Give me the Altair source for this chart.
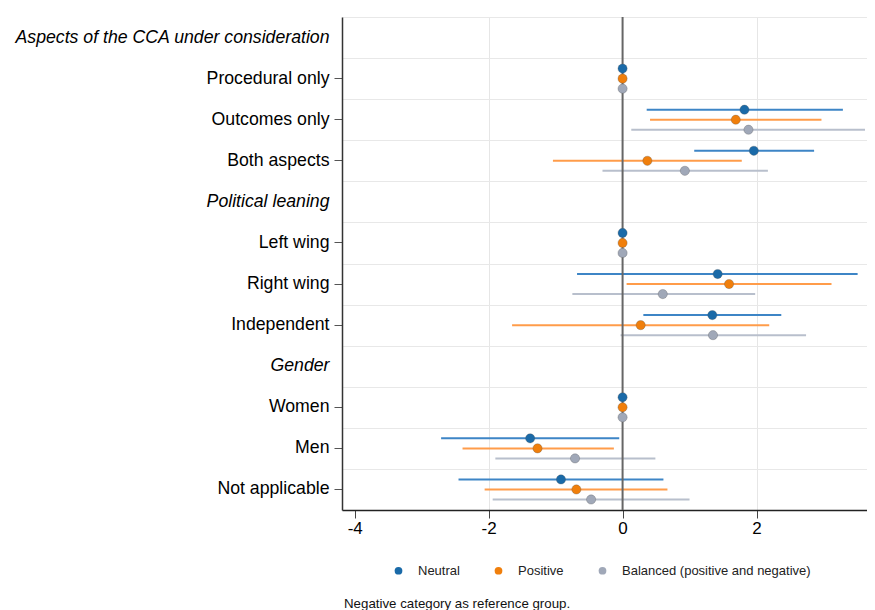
import altair as alt
import pandas as pd

rows = ["Aspects of the CCA under consideration", "Procedural only", "Outcomes only", "Both aspects",
        "Political leaning", "Left wing", "Right wing", "Independent",
        "Gender", "Women", "Men", "Not applicable"]
headers = ["Aspects of the CCA under consideration", "Political leaning", "Gender"]
categories = ["Procedural only", "Outcomes only", "Both aspects", "Left wing", "Right wing",
              "Independent", "Women", "Men", "Not applicable"]
series = ["Neutral", "Positive", "Balanced (positive and negative)"]

neutral_est = [0, 1.82, 1.96, 0, 1.42, 1.34, 0, -1.38, -0.92]
neutral_lo = [None, 0.36, 1.07, None, -0.68, 0.31, None, -2.71, -2.45]
neutral_hi = [None, 3.29, 2.86, None, 3.51, 2.37, None, -0.05, 0.61]
positive_est = [0, 1.69, 0.37, 0, 1.59, 0.27, 0, -1.27, -0.69]
positive_lo = [None, 0.41, -1.04, None, 0.06, -1.65, None, -2.39, -2.06]
positive_hi = [None, 2.97, 1.78, None, 3.12, 2.19, None, -0.13, 0.67]
balanced_est = [0, 1.88, 0.93, 0, 0.60, 1.35, 0, -0.71, -0.47]
balanced_lo = [None, 0.13, -0.30, None, -0.75, -0.03, None, -1.90, -1.94]
balanced_hi = [None, 3.62, 2.17, None, 1.98, 2.74, None, 0.49, 1.00]

x_ticks = [-4, -2, 0, 2]
note_text = "Negative category as reference group."

point_colors = ["#1a6aa8", "#f07f0c", "#a0a8b8"]
line_colors = ["#3d85c6", "#ff9c4a", "#b8bfcc"]

recs = []
for s, est, lo, hi in zip(series,
                          [neutral_est, positive_est, balanced_est],
                          [neutral_lo, positive_lo, balanced_lo],
                          [neutral_hi, positive_hi, balanced_hi]):
    for c, e, l, h in zip(categories, est, lo, hi):
        recs.append({"row": c, "series": s, "est": e, "lo": l, "hi": h})
df = pd.DataFrame(recs)

FONT = "Liberation Sans"
xdom = [-4.19, 3.65]
is_header = "indexof(" + str(headers) + ", datum.value) >= 0"

yscale = alt.Scale(domain=rows, paddingInner=0, paddingOuter=0)
yoff = alt.YOffset("series:N", sort=series,
                   scale=alt.Scale(domain=series, paddingInner=0, paddingOuter=0.55))
xscale = alt.Scale(domain=xdom, nice=False, zero=False)

xaxis = alt.Axis(title=None, values=x_ticks, labelExpr="'' + datum.value",
                 labelFontSize=17, labelFont=FONT,
                 labelColor="black", tickSize=8, tickColor="#444", domainColor="#222",
                 domainWidth=1.5, labelPadding=2,
                 grid=True, gridColor="#e6e6e6",
                 gridOpacity={"condition": {"test": "datum.value == -4 || datum.value == 0", "value": 0}, "value": 1})

yaxis = alt.Axis(title=None, labelFontSize=17.7, labelFont=FONT, labelColor="black",
                 labelLimit=400, tickSize=8, labelPadding=5, tickColor="#555",
                 domainColor="#333", domainWidth=1.5, grid=False,
                 minExtent=328.5, maxExtent=328.5,
                 labelFontStyle={"condition": {"test": is_header, "value": "italic"}, "value": "normal"},
                 tickOpacity={"condition": {"test": is_header, "value": 0}, "value": 1})

grid_axis = alt.Axis(title=None, orient="right", labels=False, ticks=False, domain=False,
                     grid=True, gridColor="#e8e8e8", tickBand="extent", minExtent=0, maxExtent=0)

base = alt.Chart(df)

rules = base.mark_rule(strokeWidth=2).encode(
    x=alt.X("lo:Q", scale=xscale, axis=xaxis),
    x2="hi:Q",
    y=alt.Y("row:N", sort=rows, scale=yscale, axis=grid_axis),
    yOffset=yoff,
    color=alt.Color("series:N", sort=series,
                    scale=alt.Scale(domain=series, range=line_colors), legend=None),
).transform_filter("isValid(datum.lo)")

zero = alt.Chart(pd.DataFrame({"x": [0]})).mark_rule(color="#666", strokeWidth=2).encode(
    x=alt.X("x:Q", scale=xscale)
)

points = base.mark_circle(size=85, opacity=1, stroke="#555", strokeWidth=0.5, strokeOpacity=0.6).encode(
    x=alt.X("est:Q", scale=xscale, axis=xaxis),
    y=alt.Y("row:N", sort=rows, scale=yscale, axis=yaxis),
    yOffset=yoff,
    color=alt.Color("series:N", sort=series,
                    scale=alt.Scale(domain=series, range=point_colors),
                    legend=alt.Legend(title=None, orient="none", direction="horizontal",
                                      legendX=50, legendY=547, symbolType="circle",
                                      symbolSize=60, symbolStrokeWidth=0, labelFontSize=13,
                                      labelFont=FONT, labelColor="#222", columnPadding=32,
                                      labelOffset=13, labelLimit=400)),
)

note = alt.Chart(pd.DataFrame({"t": [note_text]})).mark_text(
    align="left", baseline="middle", fontSize=13.3, font=FONT, color="#111"
).encode(text="t:N", x=alt.value(2), y=alt.value(587))

chart = alt.layer(rules, zero, points, note).resolve_scale(
    color="independent"
).resolve_axis(y="independent").properties(
    width=525, height=493,
    padding={"top": 8, "left": 5, "right": 0, "bottom": 0},
).configure_view(strokeWidth=0)

chart.save("out.html", embed_options={"renderer": "svg", "actions": False})
